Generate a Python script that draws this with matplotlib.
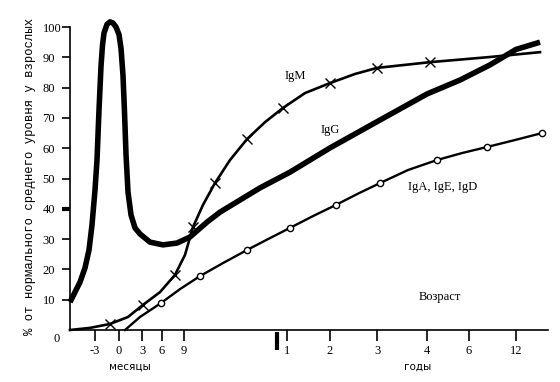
import matplotlib
matplotlib.use('Agg')
import matplotlib.pyplot as plt

# x axis uses one linear "position" scale; months on the left, years on the right
tick_pos = [95, 119, 142, 162, 184, 287, 330, 377, 427, 469, 516]
tick_lab = ['-3', '0', '3', '6', '9', '1', '2', '3', '4', '6', '12']
break_pos = 277

# IgG: maternal peak, dip, then own synthesis
igg_x = [70, 75, 80, 85, 89, 92, 95, 97, 99, 101, 102.5, 104, 107, 110, 113, 116,
         119, 121, 123, 124.5, 126, 128, 131, 135, 140, 150, 163, 177, 190, 207,
         220, 240, 260, 290, 330, 380, 427, 460, 490, 516, 540]
igg_y = [9.2, 12.5, 15.8, 20.5, 26.4, 34.7, 46.2, 56.1, 72.6, 87.0, 94.0, 98.0,
         100.9, 101.7, 101.3, 100.0, 97.5, 93.0, 84.0, 72.0, 58.0, 45.5, 38.0,
         33.7, 31.7, 29.0, 28.1, 28.7, 30.7, 35.6, 38.9, 42.9, 46.9, 52.1, 60.1,
         69.3, 77.9, 82.5, 87.5, 92.6, 95.0]

# IgM
igm_x = [70, 90, 110, 128, 143, 160, 175, 185, 193, 203, 215, 230, 247, 265,
         283, 305, 330, 355, 377, 430, 490, 540]
igm_y = [0, 0.7, 2.0, 4.3, 8.3, 12.5, 18.2, 24.8, 34.0, 41.3, 48.5, 56.1, 63.0,
         68.6, 73.3, 78.2, 81.5, 84.5, 86.5, 88.4, 90.1, 91.7]
igm_marks = [2, 4, 6, 8, 10, 12, 14, 16, 18, 19]

# IgA, IgE, IgD
iga_x = [125, 140, 161, 180, 200, 223, 247, 268, 290, 313, 336, 358, 380, 408,
         437, 462, 487, 515, 542]
iga_y = [0, 4.3, 8.9, 13.5, 17.8, 22.1, 26.4, 30.0, 33.7, 37.6, 41.3, 45.0,
         48.5, 52.8, 56.1, 58.4, 60.4, 62.7, 65.0]
iga_marks = [2, 4, 6, 8, 10, 12, 14, 16, 18]

serif = 'Liberation Serif'

fig = plt.figure(figsize=(5.6, 3.82), dpi=100)
ax = fig.add_axes([0.125, 0.1361, 0.8536, 0.7932])

ax.plot(igg_x, igg_y, color='black', lw=4.0, solid_capstyle='butt',
        solid_joinstyle='round', clip_on=False, zorder=3)
ax.plot(igm_x, igm_y, color='black', lw=1.9, marker='x', ms=7, mew=1.0,
        markevery=igm_marks, clip_on=False, zorder=4)
ax.plot(iga_x, iga_y, color='black', lw=1.7, marker='o', ms=4.5, mew=1.0,
        mfc='white', markevery=iga_marks, clip_on=False, zorder=4)

ax.set_xlim(70, 548)
ax.set_ylim(0, 100)
for s in ['top', 'right']:
    ax.spines[s].set_visible(False)
ax.spines['left'].set_linewidth(1.2)
ax.spines['bottom'].set_linewidth(1.2)

ax.set_xticks(tick_pos)
ax.set_xticklabels(tick_lab, fontfamily=serif, fontsize=9)
ax.tick_params(axis='x', direction='out', length=8, width=1.2, pad=3)

yt = list(range(10, 101, 10))
ax.set_yticks(yt)
ax.set_yticklabels([str(v) for v in yt], fontfamily=serif, fontsize=9, ha='left')
ax.tick_params(axis='y', direction='out', length=5.8, width=1.2, pad=14)
ax.yaxis.get_major_ticks()[3].tick1line.set_markeredgewidth(3)
ax.text(-0.022, -0.03, '0', transform=ax.transAxes, fontfamily=serif,
        fontsize=9, ha='right', va='center')

# break marker between months and years
ax.plot([break_pos, break_pos], [-0.7, -6.6], color='black', lw=3,
        solid_capstyle='butt', clip_on=False)

ax.text(295, 83.8, 'IgM', fontfamily=serif, fontsize=9, ha='center', va='center')
ax.text(330, 66, 'IgG', fontfamily=serif, fontsize=9, ha='center', va='center')
ax.text(408, 47.2, 'IgA, IgE, IgD', fontfamily=serif, fontsize=9, ha='left', va='center')
ax.text(440, 10.9, 'Возраст', fontfamily=serif, fontsize=9, ha='center', va='center')

fig.text(130 / 560, 1 - 367 / 382, 'месяцы', fontsize=7.5, ha='center', va='center')
fig.text(418 / 560, 1 - 367 / 382, 'годы', fontsize=7.5, ha='center', va='center')
fig.text(30 / 560, 1 - 176 / 382, '% от нормального среднего уровня у взрослых',
         fontfamily='Liberation Mono', fontsize=8.8, rotation=90,
         ha='center', va='center')

fig.savefig('out.png', dpi=100)
